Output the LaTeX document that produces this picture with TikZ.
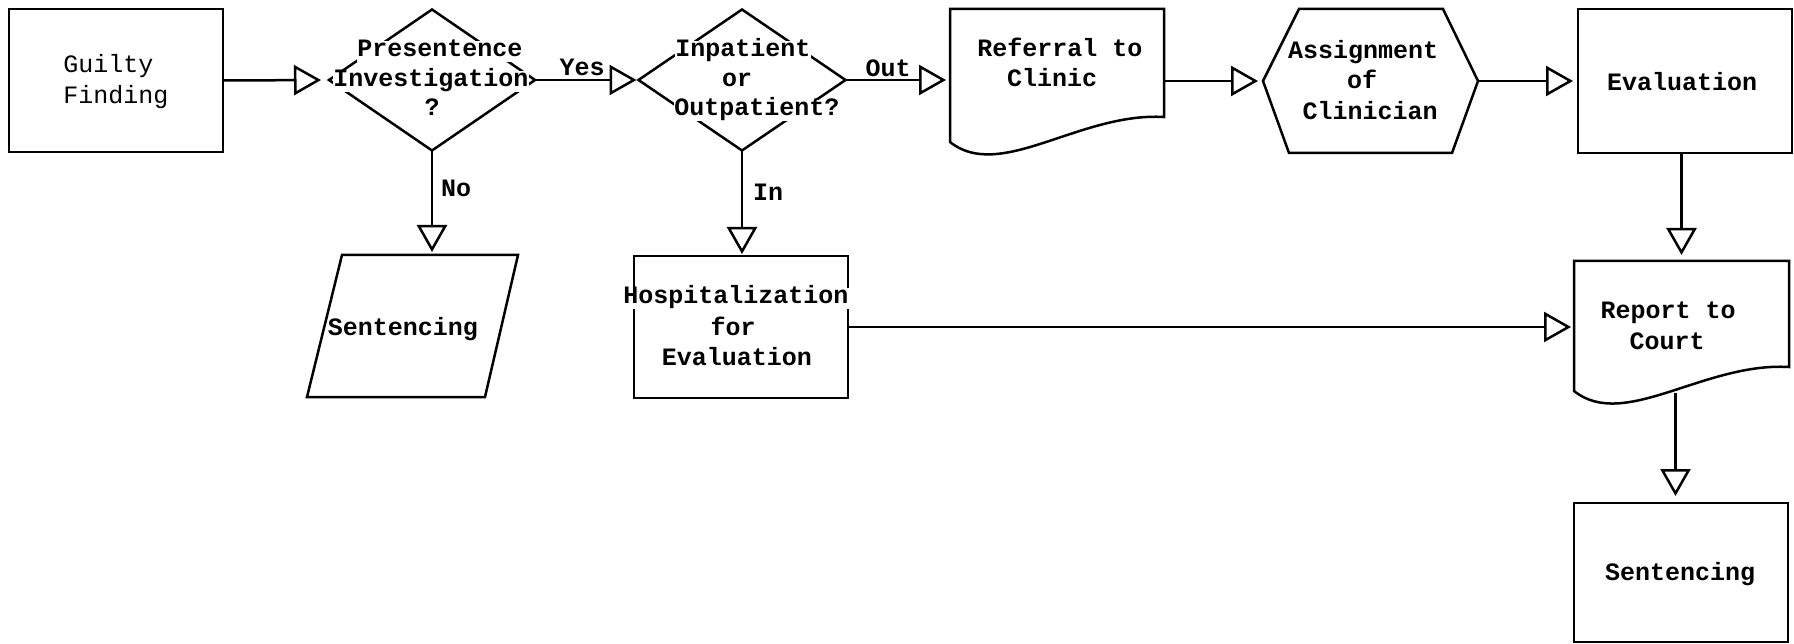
\documentclass[tikz,border=0pt]{standalone}
\usepackage{fontspec}
\newfontfamily\tw{Liberation Mono}
\usetikzlibrary{arrows.meta,shapes.geometric,calc}
\begin{document}
\begin{tikzpicture}[x=1pt,y=-1pt,
  line width=2.5pt,
  shp/.style={draw, inner sep=0pt, outer sep=0pt},
  ghost/.style={inner sep=0pt, outer sep=0pt},
  txt/.style={font=\tw\bfseries\fontsize{25}{30}\selectfont, inner xsep=0pt, inner ysep=1pt, fill=white, anchor=base, text height=15pt, text depth=4pt},
  ltxt/.style={font=\tw\fontsize{25}{30}\selectfont, inner sep=0pt, anchor=base west},
  lab/.style={font=\tw\bfseries\fontsize{25}{30}\selectfont, inner sep=0pt, anchor=base},
  arr/.style={-{Triangle[open,length=27pt,width=30pt]}, shorten >=#1},
  arr/.default=4pt
]
\useasboundingbox (0,0) rectangle (1794,644);

% ---- shapes ----
\node[shp, minimum width=214pt, minimum height=143pt] (gf) at (116,80.5) {};
\node[shp, diamond, minimum width=206pt, minimum height=141pt] (pi) at (432,80) {};
\node[shp, diamond, minimum width=207pt, minimum height=141pt] (io) at (742,80) {};

\node[ghost, minimum width=214pt, minimum height=133pt] (ref) at (1057,75.5) {};
\draw (ref.south west) -- (ref.north west) -- (ref.north east) -- ($(ref.south east)+(0,-25)$)
  .. controls ($(ref.south west)+(130,-30)$) and ($(ref.south west)+(50,40)$) .. (ref.south west) -- cycle;

\node[ghost, minimum width=215pt, minimum height=144pt] (hex) at (1370.5,81) {};
\draw (hex.west) -- ($(hex.north west)+(36,0)$) -- ($(hex.north east)+(-35,0)$) -- (hex.east)
  -- ($(hex.south east)+(-26,0)$) -- ($(hex.south west)+(26,0)$) -- cycle;

\node[shp, minimum width=214pt, minimum height=144pt] (ev) at (1685,81) {};

\node[ghost, minimum width=211pt, minimum height=142pt] (s1) at (412.5,326) {};
\draw ($(s1.north west)+(35,0)$) -- (s1.north east) -- ($(s1.south east)+(-33,0)$) -- (s1.south west) -- cycle;

\node[shp, minimum width=214pt, minimum height=142pt] (hosp) at (741,327) {};

\node[ghost, minimum width=215pt, minimum height=130pt] (rep) at (1681.5,326) {};
\draw (rep.south west) -- (rep.north west) -- (rep.north east) -- ($(rep.south east)+(0,-24)$)
  .. controls ($(rep.south west)+(130,-29)$) and ($(rep.south west)+(50,40)$) .. (rep.south west) -- cycle;
\coordinate (repb) at ($(rep.south)+(-6,2)$);

\node[shp, minimum width=214pt, minimum height=139pt] (s2) at (1681,572.5) {};

% ---- connectors ----
\draw[arr=8pt] (gf.east) -- (pi.west);
\draw[arr=2pt] (pi.east) -- (io.west);
\draw[arr] (io.east) -- (io.east -| ref.west);
\draw[arr=5pt] (ref.east |- hex.west) -- (hex.west);
\draw[arr=5pt] (hex.east) -- (hex.east -| ev.west);
\draw[arr=3pt] (pi.south) -- (pi.south |- s1.north);
\draw[arr=2pt] (io.south) -- (io.south |- hosp.north);
\draw[arr=6pt] (rep.north |- ev.south) -- (rep.north);
\draw[arr=3pt] (hosp.east) -- (hosp.east -| rep.west);
\draw[arr=7pt] (repb) -- (repb |- s2.north);

% ---- labels ----
\node[lab] (lyes) at (582,76) {Yes};
\node[lab] (lout) at (888,77) {Out};
\node[lab] (lno) at (456,197) {No};
\node[lab] (lin) at (768,201) {In};

% ---- texts ----
\node[ltxt] (gf1) at (62,73) {Guilty};
\node[ltxt] (gf2) at (62,104) {Finding};

\node[txt] (pi1) at (440,57) {Presentence};
\node[txt] (pi2) at (431,87) {Investigation};
\node[txt] (pi3) at (432,116) {?};

\node[txt] (io1) at (743,57) {Inpatient};
\node[txt] (io2) at (737,87) {or};
\node[txt] (io3) at (757,116) {Outpatient?};

\node[txt] (ref1) at (1060,57) {Referral to};
\node[txt] (ref2) at (1052,87) {Clinic};

\node[txt] (hex1) at (1363,59) {Assignment};
\node[txt] (hex2) at (1362,89) {of};
\node[txt] (hex3) at (1370,120) {Clinician};

\node[txt] (ev1) at (1682,91) {Evaluation};

\node[txt] (s11) at (403,335) {Sentencing};

\node[txt] (ho1) at (736,304) {Hospitalization};
\node[txt] (ho2) at (733,335) {for};
\node[txt] (ho3) at (737,366) {Evaluation};

\node[txt] (rep1) at (1668,319) {Report to};
\node[txt] (rep2) at (1667,349) {Court};

\node[txt] (s21) at (1680,580) {Sentencing};
\end{tikzpicture}
\end{document}
